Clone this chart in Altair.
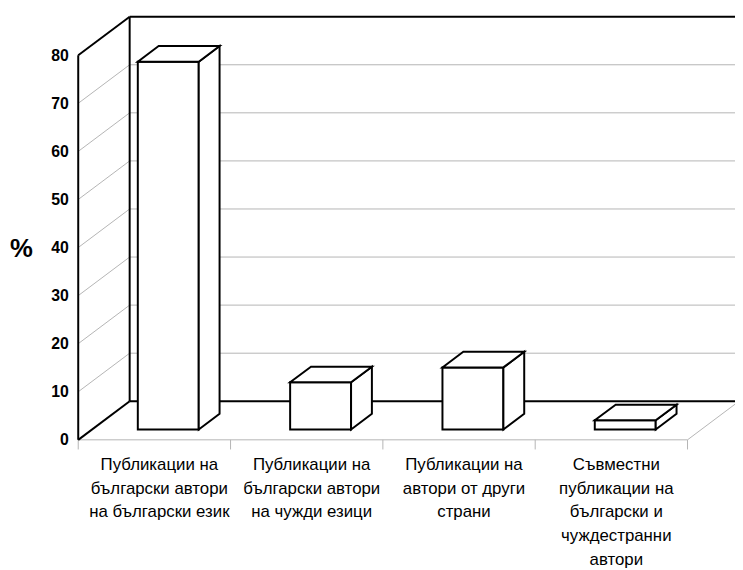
import altair as alt
import pandas as pd

# ---------------- data ----------------
categories = [
    "Публикации на\nбългарски автори\nна български език",
    "Публикации на\nбългарски автори\nна чужди езици",
    "Публикации на\nавтори от други\nстрани",
    "Съвместни\nпубликации на\nбългарски и\nчуждестранни\nавтори",
]
values = [76.5, 9.8, 12.9, 1.9]
y_ticks = [0, 10, 20, 30, 40, 50, 60, 70, 80]
grid_values = [10, 20, 30, 40, 50, 60, 70]
y_title = "%"

# ---------------- oblique projection / layout constants ----------------
PX_PER_CAT = 154.0
PX_PER_UNIT = 4.86
DXU = 52.0 / PX_PER_CAT        # depth shift in category units
DYV = 39.0 / PX_PER_UNIT       # depth shift in value units
K1, K2 = 0.27, 0.675           # bar front / back depth
BAR_L, BAR_R = 0.30, 0.70      # bar extent inside a category
W, H = 664, 554
ZERO_PX = 441.5 - 8            # pixel row of value 0 (front plane) inside the view
x_dom = [0, W / PX_PER_CAT]
y_dom = [(ZERO_PX - H) / PX_PER_UNIT, ZERO_PX / PX_PER_UNIT]
n = len(categories)
vmax = y_ticks[-1]

xs = alt.Scale(domain=x_dom, nice=False, zero=False)
ys = alt.Scale(domain=y_dom, nice=False, zero=False)
GRAY = "#b4b4b4"
FONT = "Liberation Sans"

yaxis = alt.Axis(values=y_ticks, domain=False, ticks=False, grid=False,
                 labelFont=FONT, labelFontSize=16, labelFontWeight="bold",
                 labelColor="black", labelPadding=10,
                 title=y_title, titleAngle=0, titleFont=FONT, titleFontSize=26,
                 titleFontWeight="bold", titleColor="black", titleX=-58, titleY=240,
                 titleAlign="center", titleBaseline="middle")


def X(f):
    return alt.X(f"{f}:Q", scale=xs, axis=None, stack=None)


def Y(f):
    return alt.Y(f"{f}:Q", scale=ys, axis=yaxis, stack=None, title=y_title)


def segs(rows, color, width):
    df = pd.DataFrame(rows, columns=["x0", "y0", "x1", "y1"])
    return alt.Chart(df).mark_rule(color=color, strokeWidth=width).encode(
        x=X("x0"), y=Y("y0"), x2="x1:Q", y2="y1:Q"
    )


# back wall gridlines
back_grid = segs([[DXU, g + DYV, x_dom[1], g + DYV] for g in grid_values], GRAY, 1)
# left wall diagonal gridlines
left_grid = segs([[0, g, DXU, g + DYV] for g in grid_values], GRAY, 1)
# back wall top & back floor edge
back_edges = segs([[DXU, 0 + DYV, x_dom[1], 0 + DYV],
                   [DXU, vmax + DYV, x_dom[1], vmax + DYV]], "black", 2)
# floor front edge, ticks, right diagonal
floor = segs([[0, 0, n, 0], [n, 0, n + DXU, DYV]] +
             [[i, 0, i, -2.0] for i in range(n + 1)], GRAY, 1)
# left wall outline
left_wall = segs([[0, 0, 0, vmax], [DXU, DYV, DXU, vmax + DYV],
                  [0, vmax, DXU, vmax + DYV], [0, 0, DXU, DYV]], "black", 2)

# bars
front_rows, side_rows, top_rows = [], [], []
for i, h in enumerate(values):
    front_rows.append([i, i + BAR_L + K1 * DXU, i + BAR_R + K1 * DXU, K1 * DYV, h + K1 * DYV])
    for k in (K1, K2):
        side_rows.append([i, i + BAR_R + k * DXU, k * DYV, h + k * DYV])
        top_rows.append([i, h + k * DYV, i + BAR_L + k * DXU, i + BAR_R + k * DXU])
front_df = pd.DataFrame(front_rows, columns=["bar", "x0", "x1", "y0", "y1"])
side_df = pd.DataFrame(side_rows, columns=["bar", "x", "y0", "y1"])
top_df = pd.DataFrame(top_rows, columns=["bar", "y", "x0", "x1"])

STYLE = dict(fill="white", stroke="black", strokeWidth=2, fillOpacity=1)
front = alt.Chart(front_df).mark_rect(**STYLE).encode(
    x=X("x0"), x2="x1:Q", y=Y("y0"), y2="y1:Q"
)
side = alt.Chart(side_df).mark_area(orient="vertical", **STYLE).encode(
    x=X("x"), y=Y("y0"), y2="y1:Q", detail="bar:N"
)
top = alt.Chart(top_df).mark_area(orient="horizontal", **STYLE).encode(
    y=Y("y"), x=X("x0"), x2="x1:Q", detail="bar:N"
)

# category labels
lab_df = pd.DataFrame({"x": [i + 0.5 for i in range(n)], "label": categories})
labels = alt.Chart(lab_df).mark_text(
    lineBreak="\n", font=FONT, fontSize=17, color="black", align="center",
    baseline="alphabetic", lineHeight=24, dx=5
).encode(x=X("x"), y=alt.value(464), text="label:N")

chart = alt.layer(
    back_grid, left_grid, back_edges, floor, left_wall, front, side, top, labels
).properties(
    width=W, height=H,
    autosize=alt.AutoSizeParams(type="none"),
    padding={"left": 71, "top": 0, "right": 0, "bottom": 8},
    background="white",
).configure_view(stroke=None)

chart.save("out.html", embed_options={"renderer": "svg", "actions": False})
